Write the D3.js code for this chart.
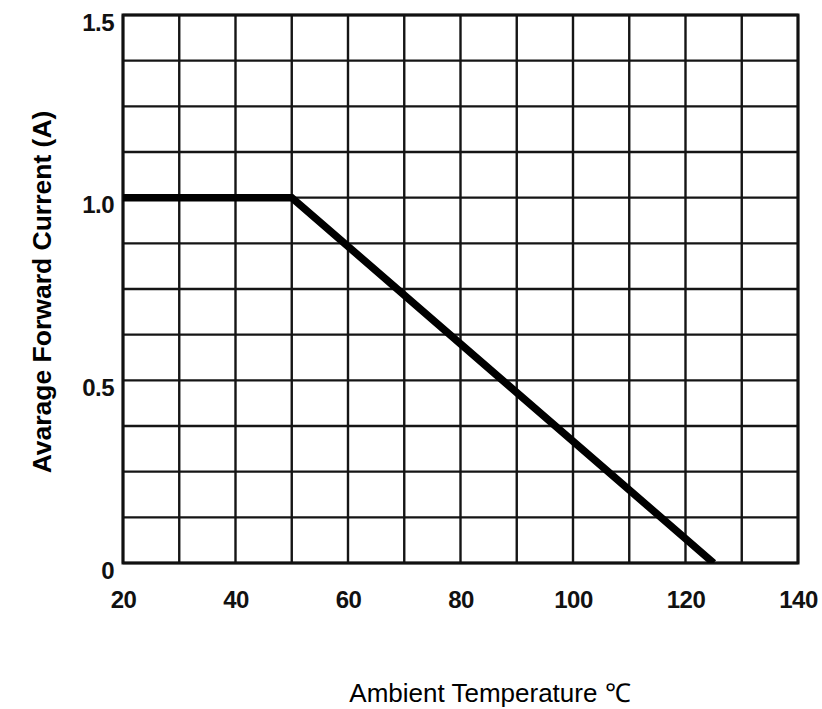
<!DOCTYPE html>
<html>
<head>
<meta charset="utf-8">
<script src="https://cdn.jsdelivr.net/npm/d3@7"></script>
<style>
  html, body { margin: 0; padding: 0; background: #fff; }
  svg { display: block; }
</style>
</head>
<body>
<svg id="chart" width="822" height="709"></svg>
<script>
// ---- data ----
const temperature = [20, 50, 125];          // °C
const current = [1.0, 1.0, 0];              // A
const xTickValues = [20, 40, 60, 80, 100, 120, 140];
const xTickLabels = ["20", "40", "60", "80", "100", "120", "140"];
const yTickValues = [0, 0.5, 1.0, 1.5];
const yTickLabels = ["0", "0.5", "1.0", "1.5"];
const xGridStep = 10;
const yGridStep = 0.125;
const xTitle = "Ambient Temperature \u2103";
const yTitle = "Avarage Forward Current (A)";

// ---- layout ----
const svg = d3.select("#chart");
const mLeft = 123, mRight = 798, mTop = 15, mBottom = 563;
const x = d3.scaleLinear().domain([20, 140]).range([mLeft, mRight]);
const y = d3.scaleLinear().domain([0, 1.5]).range([mBottom, mTop]);

const xGrid = d3.range(20, 140 + 1e-9, xGridStep);
const yGrid = d3.range(0, 1.5 + 1e-9, yGridStep);

// grid
const g = svg.append("g");
g.selectAll("line.vx").data(xGrid).join("line")
  .attr("class", "vx")
  .attr("x1", d => x(d)).attr("x2", d => x(d))
  .attr("y1", y(0)).attr("y2", y(1.5))
  .attr("stroke", "#151515").attr("stroke-width", 2.4);
g.selectAll("line.hy").data(yGrid).join("line")
  .attr("class", "hy")
  .attr("y1", d => y(d)).attr("y2", d => y(d))
  .attr("x1", x(20)).attr("x2", x(140))
  .attr("stroke", "#151515").attr("stroke-width", 2.4);

// frame
g.append("rect")
  .attr("x", x(20)).attr("y", y(1.5))
  .attr("width", x(140) - x(20)).attr("height", y(0) - y(1.5))
  .attr("fill", "none").attr("stroke", "#111").attr("stroke-width", 3);

// clip for data line
svg.append("defs").append("clipPath").attr("id", "plotclip")
  .append("rect")
  .attr("x", x(20)).attr("y", y(1.5) - 10)
  .attr("width", x(140) - x(20)).attr("height", y(0) - y(1.5) + 10);

const pts = temperature.map((t, i) => [t, current[i]]);
svg.append("path")
  .datum(pts)
  .attr("clip-path", "url(#plotclip)")
  .attr("d", d3.line().x(d => x(d[0])).y(d => y(d[1])))
  .attr("fill", "none").attr("stroke", "#000")
  .attr("stroke-width", 7.5).attr("stroke-linejoin", "miter");

// axes (labels only)
const fontBold = "'Liberation Sans', Arial, sans-serif";
const xAxis = d3.axisBottom(x).tickValues(xTickValues)
  .tickFormat((d, i) => xTickLabels[i]).tickSize(0).tickPadding(0);
const xa = svg.append("g").attr("transform", `translate(0,${mBottom})`).call(xAxis);
xa.select(".domain").remove();
xa.selectAll("text")
  .attr("y", 0).attr("dy", 45)
  .attr("font-family", fontBold).attr("font-weight", "bold")
  .attr("font-size", 24).attr("letter-spacing", -0.5).attr("fill", "#111");

const yAxis = d3.axisLeft(y).tickValues(yTickValues)
  .tickFormat((d, i) => yTickLabels[i]).tickSize(0).tickPadding(9);
const ya = svg.append("g").attr("transform", `translate(${mLeft},0)`).call(yAxis);
ya.select(".domain").remove();
ya.selectAll("text")
  .attr("dy", 15)
  .attr("font-family", fontBold).attr("font-weight", "bold")
  .attr("font-size", 24).attr("letter-spacing", -0.5).attr("fill", "#111");

// titles
svg.append("text")
  .attr("transform", "translate(51,292) rotate(-90)")
  .attr("text-anchor", "middle")
  .attr("font-family", fontBold).attr("font-weight", "bold")
  .attr("font-size", 26.5).attr("fill", "#000")
  .text(yTitle);

svg.append("text")
  .attr("x", 490).attr("y", 702)
  .attr("text-anchor", "middle")
  .attr("font-family", "'Liberation Sans', Arial, sans-serif")
  .attr("font-size", 26).attr("fill", "#000")
  .text(xTitle);
</script>
</body>
</html>
